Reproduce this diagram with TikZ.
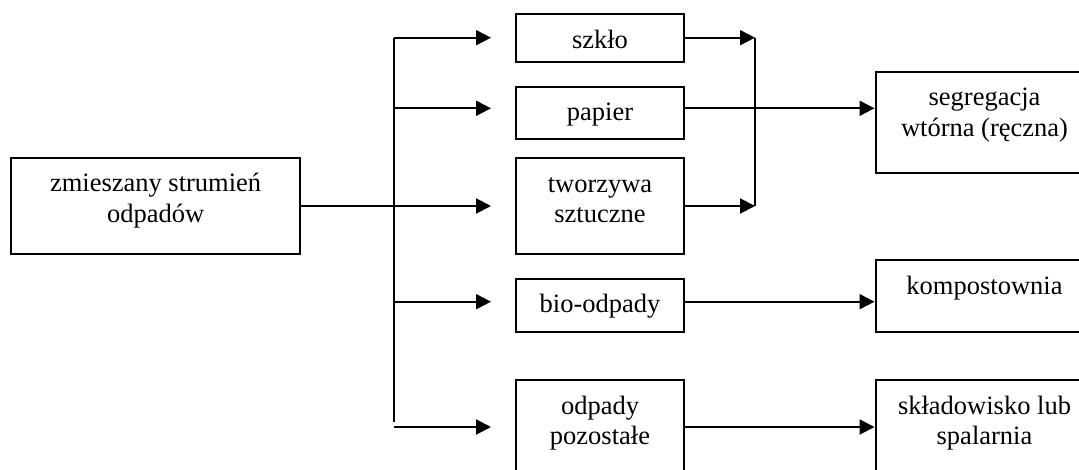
\documentclass[tikz,border=0pt]{standalone}
\usepackage{fontspec}
\setmainfont{Liberation Serif}
\usetikzlibrary{arrows.meta}
\tikzstyle{box}=[draw=black,line width=2pt,inner sep=0pt,anchor=north west]
\tikzstyle{arr}=[line width=2pt,-{Triangle[length=15pt,width=15pt]}]
\newcommand{\boxtxt}[3]{\parbox[c][#2][t]{#1}{\centering\rule{0pt}{34pt}#3}}

\begin{document}
\begin{tikzpicture}[x=1pt,y=-1pt,font=\fontsize{26.5}{30.5}\selectfont]
  \useasboundingbox (0,0) rectangle (1079,470);
  \clip (0,0) rectangle (1079,470);
  % boxes
  \node[box] (mix) at (10.3,156.7) {\boxtxt{288.6pt}{96.6pt}{zmieszany strumień\\odpadów}};
  \node[box] (glass) at (515,13.3) {\boxtxt{168pt}{47.7pt}{szkło}};
  \node[box] (paper) at (515,86) {\boxtxt{168pt}{51.7pt}{papier}};
  \node[box] (plastic) at (515,157.3) {\boxtxt{168pt}{96pt}{tworzywa\\sztuczne}};
  \node[box] (bio) at (515,277.7) {\boxtxt{168pt}{53.3pt}{bio-odpady}};
  \node[box] (rest) at (515,379) {\boxtxt{168pt}{110pt}{odpady\\pozostałe}};
  \node[box] (sort) at (874.5,71) {\boxtxt{218pt}{101pt}{segregacja\\wtórna (ręczna)}};
  \node[box] (compost) at (874.5,259) {\boxtxt{218pt}{72pt}{kompostownia}};
  \node[box] (landfill) at (874.5,379) {\boxtxt{218pt}{110pt}{składowisko lub\\spalarnia}};

  % junctions
  \coordinate (j1) at (394.3,37.7);
  \coordinate (j2) at (394.3,108.3);
  \coordinate (j3) at (394.3,206);
  \coordinate (j4) at (394.3,301.7);
  \coordinate (j5) at (394.3,427);
  \coordinate (jend) at (394.3,421.7);
  \coordinate (merge) at (755,37.7);

  % left side
  \draw[line width=2pt] (j1) -- (jend);
  \foreach \j/\b in {j1/glass,j2/paper,j4/bio,j5/rest}
    \draw[arr] (\j) -- ([xshift=-24pt]\j -| \b.west);
  \draw[arr] (mix.east |- j3) -- ([xshift=-24pt]j3 -| plastic.west);

  % right side
  \draw[line width=2pt] (merge) -- (merge |- j3);
  \draw[arr] (glass.east |- j1) -- (merge);
  \draw[arr] (plastic.east |- j3) -- (merge |- j3);
  \draw[arr] (paper.east |- j2) -- (j2 -| sort.west);
  \draw[arr] (bio.east |- j4) -- (j4 -| compost.west);
  \draw[arr] (rest.east |- j5) -- (j5 -| landfill.west);
\end{tikzpicture}
\end{document}
